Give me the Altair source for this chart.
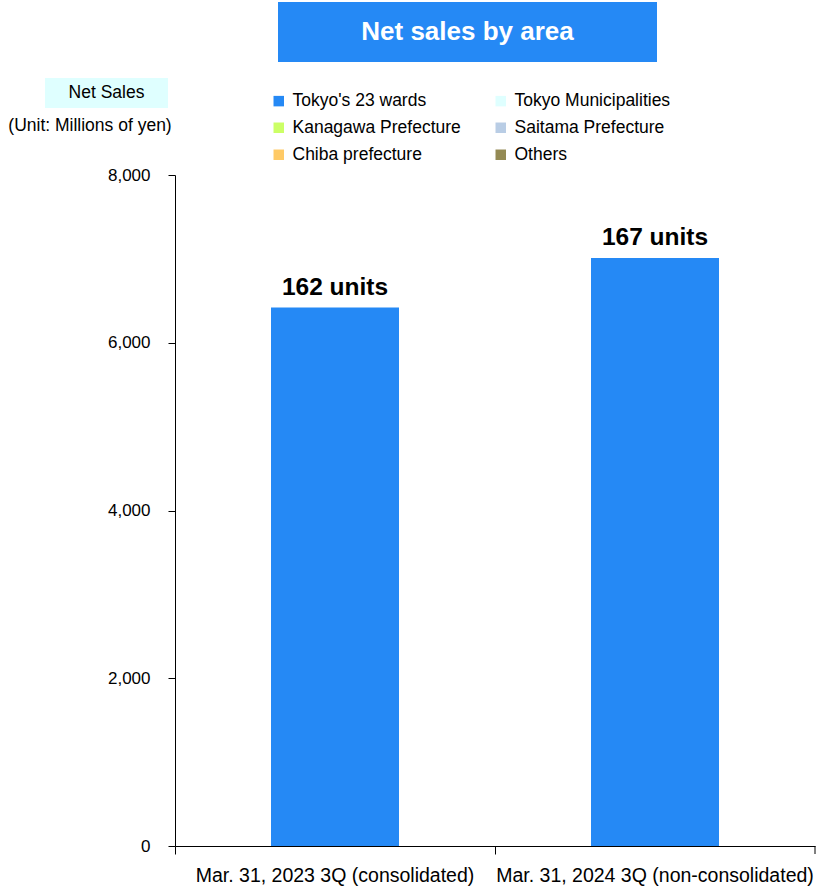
import altair as alt
import pandas as pd

# ---- data ----
periods = ["Mar. 31, 2023 3Q (consolidated)", "Mar. 31, 2024 3Q (non-consolidated)"]
areas = ["Tokyo's 23 wards", "Tokyo Municipalities", "Kanagawa Prefecture",
         "Saitama Prefecture", "Chiba prefecture", "Others"]
area_colors = ["#2589F5", "#DFFFFF", "#CCFF66", "#B9CDE5", "#FFCA66", "#948A54"]
tokyo23 = [6420, 7010]
tokyo_muni = [0, 0]
kanagawa = [0, 0]
saitama = [0, 0]
chiba = [0, 0]
others = [0, 0]
units = [162, 167]
y_ticks = [0, 2000, 4000, 6000, 8000]

FONT = "Liberation Sans, Arial, sans-serif"
BLUE = "#2589F5"
W, H = 640, 671

series = [tokyo23, tokyo_muni, kanagawa, saitama, chiba, others]
rows = []
for a, vals in zip(areas, series):
    for p, v in zip(periods, vals):
        rows.append({"period": p, "area": a, "value": v, "order": areas.index(a)})
df = pd.DataFrame(rows)

# legend fills column by column: reorder so it reads row by row like the reference
legend_order = [areas[i] for i in (0, 2, 4, 1, 3, 5)]
legend_colors = [area_colors[i] for i in (0, 2, 4, 1, 3, 5)]

tot = pd.DataFrame({
    "period": periods,
    "total": [sum(s[i] for s in series) for i in range(len(periods))],
    "label": [f"{u} units" for u in units],
})
one = pd.DataFrame({"k": [0]})

xscale = alt.Scale(paddingInner=0, paddingOuter=0)
yscale = alt.Scale(domain=[0, 8000], nice=False)
yaxis = alt.Axis(title=None, values=y_ticks, format=",.0f",
                 grid=False, tickSize=7, tickColor="black", domainColor="black",
                 labelFontSize=17, labelColor="black", labelFont=FONT,
                 labelPadding=18)

bars = alt.Chart(df).mark_bar(width=alt.RelativeBandSize(0.4)).encode(
    x=alt.X("period:N", sort=periods, scale=xscale,
            axis=alt.Axis(title=None, labelAngle=0, ticks=False, domain=True,
                          domainColor="black", labelFontSize=19.5, labelColor="black",
                          labelFont=FONT, labelPadding=20, labelLimit=0,
                          orient="bottom")),
    y=alt.Y("value:Q", stack="zero", scale=yscale, axis=yaxis),
    color=alt.Color("area:N",
                    scale=alt.Scale(domain=legend_order, range=legend_colors),
                    legend=alt.Legend(title=None, orient="none", legendX=95, legendY=-83,
                                      columns=2, symbolType="square", symbolSize=110,
                                      symbolStrokeWidth=0, labelFontSize=17.5,
                                      labelFont=FONT, labelColor="black", labelLimit=0,
                                      columnPadding=31, rowPadding=8, labelOffset=5)),
    order=alt.Order("order:Q"),
)

labels = alt.Chart(tot).mark_text(fontSize=24.5, fontWeight="bold", font=FONT,
                                  baseline="bottom", dy=-8, color="black").encode(
    x=alt.X("period:N", sort=periods, scale=xscale,
            axis=alt.Axis(title=None, labels=False, domain=False, ticks=True,
                          tickSize=8, tickColor="black", bandPosition=0,
                          orient="bottom")),
    y=alt.Y("total:Q", scale=yscale, axis=yaxis),
    text="label:N",
)

end_tick = alt.Chart(one).mark_rule(color="black").encode(
    x=alt.value(W), y=alt.value(H), y2=alt.value(H + 8))

title_box = alt.Chart(one).mark_rect(color=BLUE).encode(
    x=alt.value(103), x2=alt.value(482), y=alt.value(-173), y2=alt.value(-113))
title_txt = alt.Chart(one).mark_text(text="Net sales by area", color="white", fontSize=26,
                                     fontWeight="bold", font=FONT, align="center",
                                     baseline="middle").encode(
    x=alt.value(292.5), y=alt.value(-143))

ns_box = alt.Chart(one).mark_rect(color="#DFFFFF").encode(
    x=alt.value(-130), x2=alt.value(-7), y=alt.value(-97), y2=alt.value(-67))
ns_txt = alt.Chart(one).mark_text(text="Net Sales", fontSize=17.5, font=FONT, color="black",
                                  align="center", baseline="middle").encode(
    x=alt.value(-68.5), y=alt.value(-82))
unit_txt = alt.Chart(one).mark_text(text="(Unit: Millions of yen)", fontSize=17.5, font=FONT,
                                    color="black", align="center", baseline="middle").encode(
    x=alt.value(-85), y=alt.value(-49))

chart = alt.layer(bars, labels, end_tick, title_box, title_txt, ns_box, ns_txt, unit_txt).resolve_axis(
    x="independent"
).properties(
    width=W, height=H,
    autosize=alt.AutoSizeParams(type="none"),
    padding={"left": 175, "top": 175, "right": 14, "bottom": 44},
    background="white",
).configure_view(stroke=None)

chart.save("out.html", embed_options={"renderer": "svg", "actions": False})
